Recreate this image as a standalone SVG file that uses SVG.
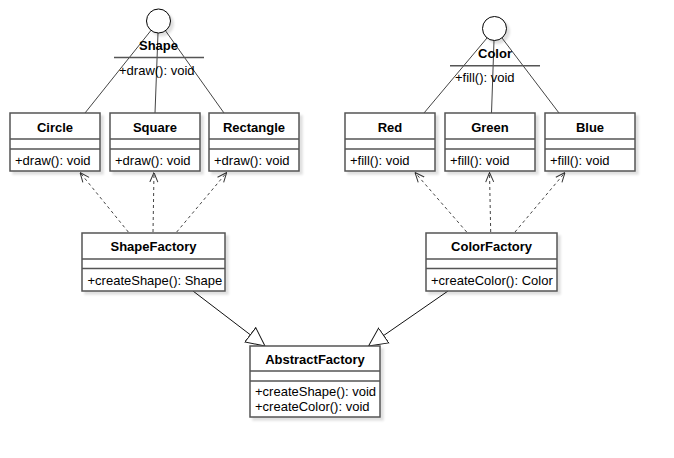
<svg xmlns="http://www.w3.org/2000/svg" width="674" height="458" viewBox="0 0 674 458">
<defs>
<filter id="sh" x="-20%" y="-20%" width="140%" height="140%">
<feDropShadow dx="3" dy="3" stdDeviation="1.2" flood-color="#000" flood-opacity="0.12"/>
</filter>
<marker id="open" viewBox="0 0 10 10" refX="10" refY="5" markerWidth="10" markerHeight="10" markerUnits="userSpaceOnUse" orient="auto">
<path d="M0.5,1 L10,5 L0.5,9" fill="none" stroke="#333" stroke-width="1"/>
</marker>
<marker id="tri" viewBox="0 0 20 20" refX="19" refY="10" markerWidth="20" markerHeight="20" markerUnits="userSpaceOnUse" orient="auto">
<path d="M0.5,1 L19,10 L0.5,19 Z" fill="#fff" stroke="#111" stroke-width="1"/>
</marker>
</defs>
<style>
.box{fill:#fff;stroke:#555;stroke-width:1.5;filter:url(#sh)}
.div{stroke:#555;stroke-width:1.5}
text{font-family:"Liberation Sans",Arial,sans-serif;font-size:13px;fill:#000}
.t{font-weight:bold;text-anchor:middle}
.c{fill:none;stroke:#444;stroke-width:1}
.dep{fill:none;stroke:#444;stroke-width:1;stroke-dasharray:3 3;marker-end:url(#open)}
.gen{fill:none;stroke:#111;stroke-width:1;marker-end:url(#tri)}
.ic{fill:#fff;stroke:#000;stroke-width:1;filter:url(#sh)}
</style>

<g id="connectors">
<line class="c" x1="151" y1="30.4" x2="85" y2="113"/>
<line class="c" x1="158" y1="33" x2="155" y2="113"/>
<line class="c" x1="165.5" y1="30.8" x2="224" y2="113"/>
<line class="c" x1="487" y1="38" x2="424" y2="113"/>
<line class="c" x1="494" y1="40.5" x2="491.5" y2="113"/>
<line class="c" x1="502" y1="38" x2="559" y2="113"/>
<line class="dep" x1="128.3" y1="232" x2="80" y2="172.5"/>
<line class="dep" x1="153" y1="232" x2="154" y2="172.5"/>
<line class="dep" x1="176.7" y1="232" x2="226.7" y2="172.5"/>
<line class="dep" x1="466.7" y1="232" x2="415" y2="172.5"/>
<line class="dep" x1="490.7" y1="232" x2="489.5" y2="172.5"/>
<line class="dep" x1="515" y1="232" x2="565" y2="172.5"/>
<line class="gen" x1="193" y1="291" x2="265" y2="346"/>
<line class="gen" x1="448" y1="291" x2="368.5" y2="346"/>
</g>

<g id="Shape">
<circle class="ic" cx="158.5" cy="21" r="12"/>
<text class="t" x="158.5" y="49.5">Shape</text>
<line x1="114" y1="57.5" x2="204" y2="57.5" stroke="#555" stroke-width="1.5"/>
<text x="119" y="74.5">+draw(): void</text>
</g>

<g id="Color">
<circle class="ic" cx="494.5" cy="28.5" r="12"/>
<text class="t" x="495" y="58">Color</text>
<line x1="450" y1="65.7" x2="540" y2="65.7" stroke="#555" stroke-width="1.5"/>
<text x="455" y="81.5">+fill(): void</text>
</g>

<g id="Circle">
<rect class="box" x="10" y="113" width="90" height="58"/>
<line class="div" x1="10" y1="139" x2="100" y2="139"/>
<line class="div" x1="10" y1="149" x2="100" y2="149"/>
<text class="t" x="55" y="131.5">Circle</text>
<text x="15" y="164.5">+draw(): void</text>
</g>

<g id="Square">
<rect class="box" x="110" y="113" width="90" height="58"/>
<line class="div" x1="110" y1="139" x2="200" y2="139"/>
<line class="div" x1="110" y1="149" x2="200" y2="149"/>
<text class="t" x="155" y="131.5">Square</text>
<text x="115" y="164.5">+draw(): void</text>
</g>

<g id="Rectangle">
<rect class="box" x="209" y="113" width="90" height="58"/>
<line class="div" x1="209" y1="139" x2="299" y2="139"/>
<line class="div" x1="209" y1="149" x2="299" y2="149"/>
<text class="t" x="254" y="131.5">Rectangle</text>
<text x="214" y="164.5">+draw(): void</text>
</g>

<g id="Red">
<rect class="box" x="345" y="113" width="90" height="58"/>
<line class="div" x1="345" y1="139" x2="435" y2="139"/>
<line class="div" x1="345" y1="149" x2="435" y2="149"/>
<text class="t" x="390" y="131.5">Red</text>
<text x="350" y="164.5">+fill(): void</text>
</g>

<g id="Green">
<rect class="box" x="445" y="113" width="90" height="58"/>
<line class="div" x1="445" y1="139" x2="535" y2="139"/>
<line class="div" x1="445" y1="149" x2="535" y2="149"/>
<text class="t" x="490" y="131.5">Green</text>
<text x="450" y="164.5">+fill(): void</text>
</g>

<g id="Blue">
<rect class="box" x="545" y="113" width="90" height="58"/>
<line class="div" x1="545" y1="139" x2="635" y2="139"/>
<line class="div" x1="545" y1="149" x2="635" y2="149"/>
<text class="t" x="590" y="131.5">Blue</text>
<text x="550" y="164.5">+fill(): void</text>
</g>

<g id="ShapeFactory">
<rect class="box" x="82" y="233" width="143" height="58"/>
<line class="div" x1="82" y1="259" x2="225" y2="259"/>
<line class="div" x1="82" y1="268.5" x2="225" y2="268.5"/>
<text class="t" x="153.5" y="251">ShapeFactory</text>
<text x="87.5" y="284.5">+createShape(): Shape</text>
</g>

<g id="ColorFactory">
<rect class="box" x="426" y="233" width="131" height="58"/>
<line class="div" x1="426" y1="259" x2="557" y2="259"/>
<line class="div" x1="426" y1="268.5" x2="557" y2="268.5"/>
<text class="t" x="491.5" y="251">ColorFactory</text>
<text x="431" y="284.5">+createColor(): Color</text>
</g>

<g id="AbstractFactory">
<rect class="box" x="250" y="346" width="130" height="71"/>
<line class="div" x1="250" y1="371" x2="380" y2="371"/>
<line class="div" x1="250" y1="381" x2="380" y2="381"/>
<text class="t" x="315" y="363.5">AbstractFactory</text>
<text x="255" y="396">+createShape(): void</text>
<text x="255" y="411">+createColor(): void</text>
</g>
</svg>
